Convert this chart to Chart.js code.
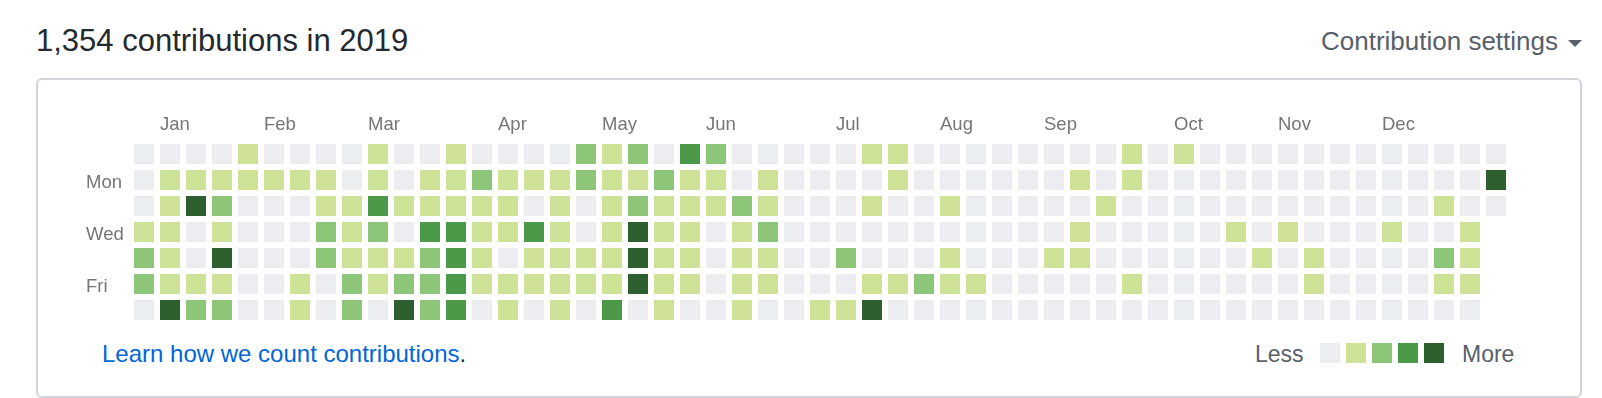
<!DOCTYPE html>
<html>
<head>
<meta charset="utf-8">
<script src="https://cdn.jsdelivr.net/npm/chart.js@4/dist/chart.umd.min.js"></script>
<style>
  body { margin: 0; width: 1602px; height: 398px; overflow: hidden; background: #fff;
         font-family: "Liberation Sans", Arial, Helvetica, sans-serif; position: relative; }
  .abs { position: absolute; white-space: nowrap; }
  #title { left: 36px; top: 25px; font-size: 31px; line-height: 31px; color: #24292e; }
  #settings { right: 44px; top: 28px; font-size: 26px; line-height: 26px; color: #586069; }
  #caret { left: 1568px; top: 40px; width: 0; height: 0;
           border-left: 7px solid transparent; border-right: 7px solid transparent; border-top: 7px solid #586069; }
  #box { left: 36px; top: 78px; width: 1546px; height: 320px; box-sizing: border-box;
         border: 2px solid #d1d5da; border-radius: 6px; }
  #learn { left: 102px; top: 342px; font-size: 24px; line-height: 24px; color: #0366d6; }
  #learn span { color: #24292e; }
  .leg { top: 343px; font-size: 23px; line-height: 23px; color: #586069; }
  .sq { top: 343px; width: 20px; height: 20px; }
  #chart { position: absolute; left: 0; top: 0; }
</style>
</head>
<body>
<div class="abs" id="title">1,354 contributions in 2019</div>
<div class="abs" id="settings">Contribution settings</div>
<div class="abs" id="caret"></div>
<div class="abs" id="box"></div>
<div class="abs" id="learn">Learn how we count contributions<span>.</span></div>
<div id="legend"></div>
<canvas id="chart" width="1602" height="398"></canvas>
<script>
// contribution level (0-4) per week, one array per weekday
const sun = [0,0,0,0,1,0,0,0,0,1,0,0,1,0,0,0,0,2,1,2,0,3,2,0,0,0,0,0,1,1,0,0,0,0,0,0,0,0,1,0,1,0,0,0,0,0,0,0,0,0,0,0,0];
const mon = [0,1,1,1,1,1,1,1,0,1,0,1,1,2,1,1,1,2,1,1,2,1,1,0,1,0,0,0,0,1,0,0,0,0,0,0,1,0,1,0,0,0,0,0,0,0,0,0,0,0,0,0,4];
const tue = [0,1,4,2,0,0,0,1,1,3,1,1,1,1,1,0,1,0,1,2,1,1,1,2,1,0,0,0,1,0,0,1,0,0,0,0,0,1,0,0,0,0,0,0,0,0,0,0,0,0,1,0,0];
const wed = [1,1,0,1,0,0,0,2,1,2,0,3,3,1,1,3,1,0,1,4,1,1,0,1,2,0,0,0,0,0,0,0,0,0,0,0,1,0,0,0,0,0,1,0,1,0,0,0,1,0,0,1];
const thu = [2,1,0,4,0,0,0,2,1,1,1,2,3,1,0,1,1,1,1,4,1,1,0,1,1,0,0,2,0,0,0,1,0,0,0,1,1,0,0,0,0,0,0,1,0,1,0,0,0,0,2,1];
const fri = [2,1,1,1,0,0,1,0,2,1,2,2,3,1,1,1,1,1,1,4,1,1,0,1,1,0,0,0,1,1,2,1,1,0,0,0,0,0,1,0,0,0,0,0,0,1,0,0,0,0,1,1];
const sat = [0,4,2,2,0,0,1,0,2,0,4,2,3,0,1,0,1,0,3,0,1,0,0,1,0,0,1,1,4,0,0,0,0,0,0,0,0,0,0,0,0,0,0,0,0,0,0,0,0,0,0,0];

const months = ['Jan', 'Feb', 'Mar', 'Apr', 'May', 'Jun', 'Jul', 'Aug', 'Sep', 'Oct', 'Nov', 'Dec'];
const monthWeeks = [1, 5, 9, 14, 18, 22, 27, 31, 35, 40, 44, 48];
const dayLabels = ['', 'Mon', '', 'Wed', '', 'Fri', ''];
const levelColors = ['#ebedf0', '#cee397', '#8ec679', '#4c9a49', '#2e5f2e'];

const days = [sun, mon, tue, wed, thu, fri, sat];
const points = [];
days.forEach((row, d) => {
  row.forEach((v, w) => points.push({ x: w, y: d, v: v }));
});

// legend squares
const legend = document.getElementById('legend');
legend.innerHTML = '<div class="abs leg" style="left:1255px">Less</div>' +
  levelColors.map((c, i) => '<div class="abs sq" style="left:' + (1320 + i * 26) + 'px;background:' + c + '"></div>').join('') +
  '<div class="abs leg" style="left:1462px">More</div>';

const labels = {
  id: 'calendarLabels',
  afterDatasetsDraw(chart) {
    const { ctx, scales: { x, y } } = chart;
    ctx.save();
    ctx.fillStyle = '#767676';
    ctx.font = '18.5px "Liberation Sans", Arial, sans-serif';
    ctx.textAlign = 'left';
    ctx.textBaseline = 'alphabetic';
    const top = y.getPixelForValue(-0.5);
    months.forEach((m, i) => {
      ctx.fillText(m, x.getPixelForValue(monthWeeks[i] - 0.5) + 3, top - 11);
    });
    dayLabels.forEach((d, i) => {
      if (d) ctx.fillText(d, 86, y.getPixelForValue(i) + 7.5);
    });
    ctx.restore();
  }
};

new Chart(document.getElementById('chart'), {
  type: 'scatter',
  data: {
    datasets: [{
      data: points,
      pointStyle: 'rect',
      pointRadius: 10 * Math.SQRT2,
      pointHoverRadius: 10 * Math.SQRT2,
      pointBorderWidth: 0,
      pointBackgroundColor: c => levelColors[c.raw.v]
    }]
  },
  options: {
    responsive: false,
    animation: false,
    events: [],
    layout: { padding: { left: 131, right: 93, top: 141, bottom: 75 } },
    scales: {
      x: { type: 'linear', display: false, min: -0.5, max: 52.5 },
      y: { type: 'linear', display: false, min: -0.5, max: 6.5, reverse: true }
    },
    plugins: { legend: { display: false }, tooltip: { enabled: false } }
  },
  plugins: [labels]
});
</script>
</body>
</html>
